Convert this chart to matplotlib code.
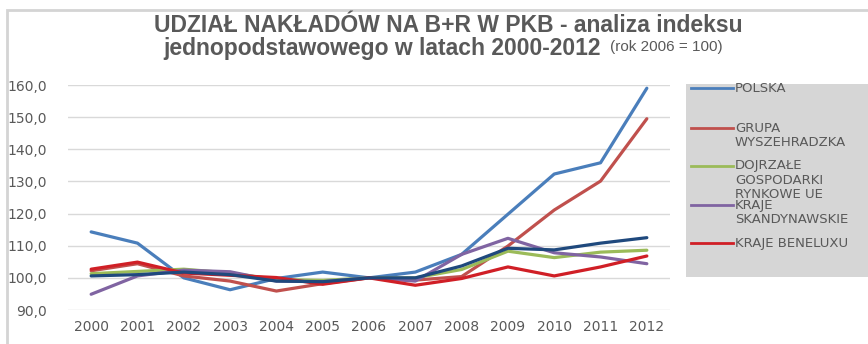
import numpy as np
import matplotlib.pyplot as plt
from matplotlib.patches import Rectangle
from matplotlib.lines import Line2D

plt.rcParams['font.family'] = ['DejaVu Sans']

years = ['2000', '2001', '2002', '2003', '2004', '2005', '2006',
         '2007', '2008', '2009', '2010', '2011', '2012']

polska = [114.3, 110.8, 100.0, 96.3, 99.8, 101.8, 100.0,
          101.8, 107.3, 119.8, 132.3, 135.8, 159.0]
grupa_v4 = [102.2, 104.4, 100.6, 99.0, 95.9, 98.2, 100.0,
            99.3, 100.4, 109.9, 121.1, 130.1, 149.5]
dojrzale = [101.3, 102.0, 102.7, 101.5, 99.5, 99.2, 100.0,
            100.0, 102.6, 108.3, 106.3, 108.0, 108.6]
skandynawia = [94.9, 100.6, 102.4, 101.9, 99.0, 98.8, 100.0,
               99.0, 107.3, 112.3, 107.8, 106.5, 104.4]
benelux = [102.7, 104.9, 101.5, 100.8, 100.1, 98.0, 100.0,
           97.7, 99.8, 103.4, 100.6, 103.4, 106.8]
ue_srednia = [100.6, 101.0, 101.8, 101.0, 99.0, 98.8, 100.0,
              100.0, 103.7, 109.2, 108.7, 110.8, 112.5]

yticks = [90, 100, 110, 120, 130, 140, 150, 160]

legend_labels = ['POLSKA', 'GRUPA\nWYSZEHRADZKA', 'DOJRZAŁE\nGOSPODARKI\nRYNKOWE UE',
                 'KRAJE\nSKANDYNAWSKIE', 'KRAJE BENELUXU']

c_pl = '#4A7EBB'
c_v4 = '#C0504D'
c_gr = '#9BBB59'
c_sk = '#8064A2'
c_bx = '#D01F26'
c_ue = '#1F497D'
txt = '#595959'

W, H = 868, 344
fig = plt.figure(figsize=(W / 100, H / 100), dpi=100)

# outer frame
fig.patches.append(Rectangle((7 / W, -0.1), 2.0, 1.1 - 10 / H, transform=fig.transFigure,
                             fill=False, edgecolor='#D4D4D4', linewidth=2))

ax = fig.add_axes([68 / W, (H - 310) / H, (670 - 68) / W, (310 - 85) / H])
x = np.arange(len(years))
series = [(polska, c_pl), (grupa_v4, c_v4), (dojrzale, c_gr),
          (skandynawia, c_sk), (benelux, c_bx), (ue_srednia, c_ue)]
for vals, col in series:
    ax.plot(x, vals, color=col, linewidth=2.3, solid_capstyle='round')

ax.set_xlim(-0.5, len(years) - 0.5)
ax.set_ylim(90, 160)
ax.set_yticks(yticks)
ax.set_yticklabels([f'{v:.1f}'.replace('.', ',') for v in yticks])
ax.set_xticks(x)
ax.set_xticklabels(years)
ax.tick_params(axis='both', length=0, labelsize=10, labelcolor=txt)
ax.tick_params(axis='y', pad=15)
ax.tick_params(axis='x', pad=7)
ax.grid(axis='y', color='#D9D9D9', linewidth=1)
ax.set_axisbelow(True)
for s in ax.spines.values():
    s.set_visible(False)

# title
fig.text(0.517, (H - 26) / H, 'UDZIAŁ NAKŁADÓW NA B+R W PKB - analiza indeksu',
         ha='center', va='center', fontsize=16.5, fontweight='bold', color=txt,
         family='Liberation Sans')
fig.text(163 / W, (H - 48) / H, 'jednopodstawowego w latach 2000-2012',
         ha='left', va='center', fontsize=16.5, fontweight='bold', color=txt,
         family='Liberation Sans')
fig.text(610 / W, (H - 47) / H, '(rok 2006 = 100)',
         ha='left', va='center', fontsize=11, color=txt, family='Liberation Sans')

# legend panel
lax = fig.add_axes([686 / W, (H - 277) / H, (W - 686) / W, (277 - 84) / H])
lax.set_xlim(686, W)
lax.set_ylim(277, 84)
lax.set_facecolor('#D6D6D6')
lax.set_xticks([])
lax.set_yticks([])
for s in lax.spines.values():
    s.set_visible(False)

legend_y = [88, 128, 166, 205, 243]
legend_cols = [c_pl, c_v4, c_gr, c_sk, c_bx]
for lbl, ly, col in zip(legend_labels, legend_y, legend_cols):
    lax.add_line(Line2D([691, 733], [ly, ly], color=col, linewidth=2))
    for i, part in enumerate(lbl.split('\n')):
        lax.text(735, ly + i * 14.5, part, ha='left', va='center',
                 fontsize=9.5, color=txt)

fig.savefig('out.png', dpi=100)
